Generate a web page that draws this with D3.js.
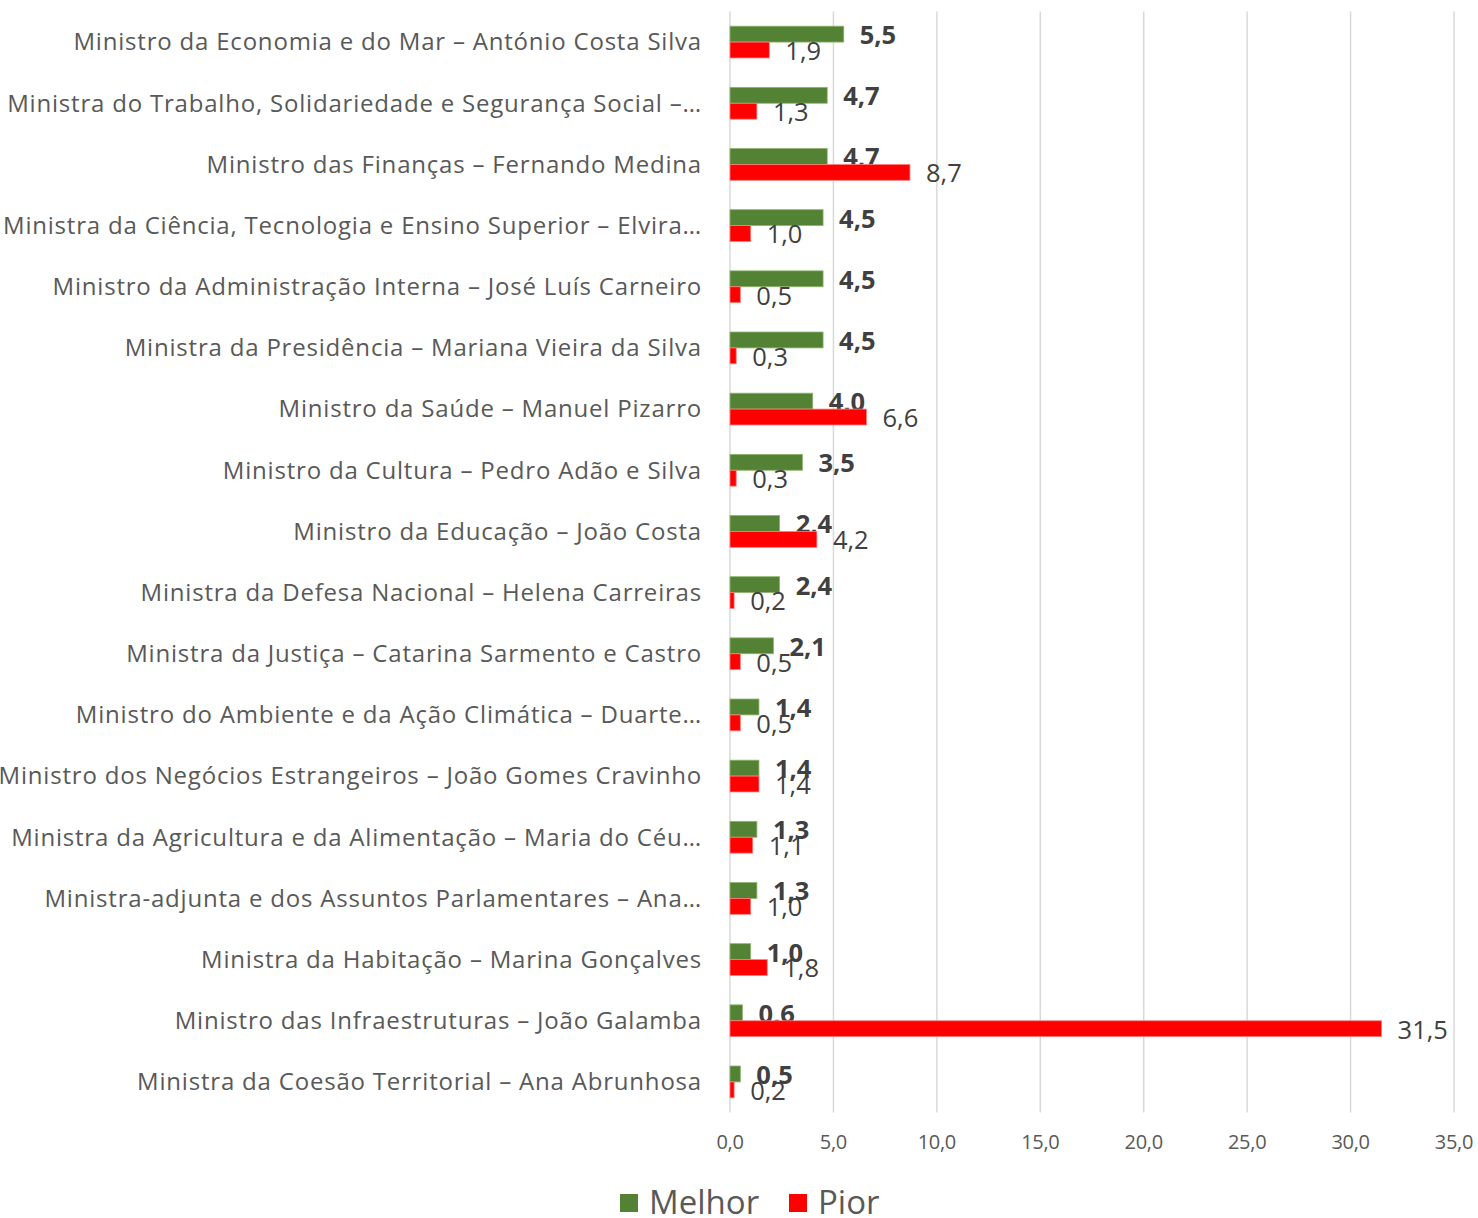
<!DOCTYPE html>
<html><head><meta charset="utf-8">
<script src="https://cdn.jsdelivr.net/npm/d3@7"></script>
<style>body{margin:0;background:#fff;} svg{display:block;}</style>
</head><body>
<svg id="chart" width="1478" height="1218"></svg>
<script>
const categories = [
 "Ministro da Economia e do Mar – António Costa Silva",
 "Ministra do Trabalho, Solidariedade e Segurança Social  –…",
 "Ministro das Finanças – Fernando Medina",
 "Ministra da Ciência, Tecnologia e Ensino Superior – Elvira…",
 "Ministro da Administração Interna – José Luís Carneiro",
 "Ministra da Presidência – Mariana Vieira da Silva",
 "Ministro da Saúde – Manuel Pizarro",
 "Ministro da Cultura – Pedro Adão e Silva",
 "Ministro da Educação – João Costa",
 "Ministra da Defesa Nacional – Helena Carreiras",
 "Ministra da Justiça – Catarina Sarmento e Castro",
 "Ministro do Ambiente e da Ação Climática – Duarte…",
 "Ministro dos Negócios Estrangeiros – João Gomes Cravinho",
 "Ministra da Agricultura e da Alimentação – Maria do Céu…",
 "Ministra-adjunta e dos Assuntos Parlamentares – Ana…",
 "Ministra da Habitação – Marina Gonçalves",
 "Ministro das Infraestruturas – João Galamba",
 "Ministra da Coesão Territorial – Ana Abrunhosa"
];
const melhor = [5.5,4.7,4.7,4.5,4.5,4.5,4.0,3.5,2.4,2.4,2.1,1.4,1.4,1.3,1.3,1.0,0.6,0.5];
const pior   = [1.9,1.3,8.7,1.0,0.5,0.3,6.6,0.3,4.2,0.2,0.5,0.5,1.4,1.1,1.0,1.8,31.5,0.2];
const seriesNames = ["Melhor","Pior"];
const seriesColors = ["#548235","#FF0000"];
const xTicks = [0,5,10,15,20,25,30,35];

const FONT = "'Open Sans', sans-serif";
const svg = d3.select("#chart");
const pLeft = 730, pRight = 1454, pTop = 11.5, pBottom = 1112.5;
const x = d3.scaleLinear().domain([0,35]).range([pLeft,pRight]);
const y = d3.scaleBand().domain(categories).range([pTop,pBottom]).paddingInner(0.48).paddingOuter(0.24);
const sub = d3.scaleBand().domain(seriesNames).range([0,y.bandwidth()]);
const fmt = v => d3.format(".1f")(v).replace(".",",");

// gridlines
svg.append("g").selectAll("line").data(xTicks).join("line")
  .attr("x1",d=>x(d)).attr("x2",d=>x(d)).attr("y1",pTop).attr("y2",pBottom)
  .attr("stroke","#d9d9d9").attr("stroke-width",1.5);

// x tick labels
svg.append("g").selectAll("text").data(xTicks).join("text")
  .attr("x",d=>x(d)).attr("y",1149).attr("text-anchor","middle")
  .attr("font-family",FONT).attr("font-size",20).attr("fill","#595959")
  .attr("letter-spacing",-0.3)
  .text(d=>fmt(d));

// category labels
svg.append("g").selectAll("text").data(categories).join("text")
  .attr("x",702).attr("y",d=>y(d)+y.bandwidth()/2).attr("dy","0.35em")
  .attr("text-anchor","end").attr("font-family",FONT).attr("font-size",24).attr("fill","#595959")
  .attr("letter-spacing",0.8)
  .text(d=>d);

const data = [melhor, pior];
data.forEach((vals,si)=>{
  const g = svg.append("g");
  g.selectAll("rect").data(vals).join("rect")
    .attr("x",x(0)).attr("y",(d,i)=>y(categories[i])+sub(seriesNames[si]))
    .attr("width",d=>x(d)-x(0)).attr("height",sub.bandwidth())
    .attr("fill",seriesColors[si]).attr("stroke", si===0?"#8fb56f":"#ff8080").attr("stroke-width",0.8);
  g.selectAll("text").data(vals).join("text")
    .attr("x",d=>x(d)+16).attr("y",(d,i)=>y(categories[i])+sub(seriesNames[si])+sub.bandwidth()/2+1)
    .attr("dy","0.35em").attr("font-family",FONT).attr("font-size",25.5)
    .attr("font-weight",si===0?"bold":"normal").attr("fill","#404040")
    .text(d=>fmt(d));
});

// legend
const leg = svg.append("g");
const legItems = [{n:"Melhor",c:seriesColors[0],x:620},{n:"Pior",c:seriesColors[1],x:789}];
legItems.forEach(it=>{
  leg.append("rect").attr("x",it.x).attr("y",1194).attr("width",18).attr("height",18).attr("fill",it.c);
  leg.append("text").attr("x",it.x+29).attr("y",1214)
    .attr("font-family",FONT).attr("font-size",33).attr("fill","#595959").text(it.n);
});
</script>
</body></html>
